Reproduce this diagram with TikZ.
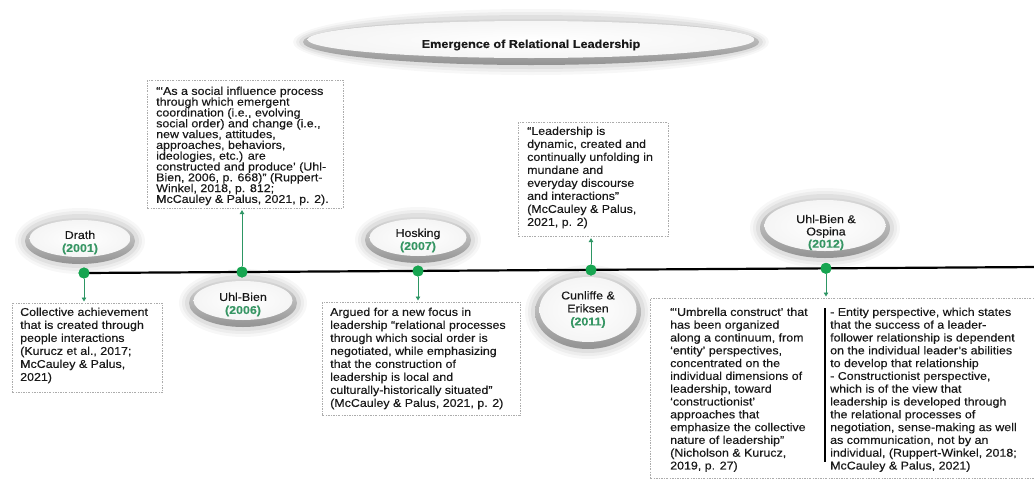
\documentclass[tikz,border=0pt]{standalone}
\usepackage{fontspec}
\setmainfont[FakeStretch=1.1,FakeBold=0.3]{Liberation Sans}
\usetikzlibrary{arrows.meta}
\definecolor{dotgreen}{RGB}{22,165,80}
\definecolor{yeargreen}{RGB}{55,150,100}
\definecolor{arrgreen}{RGB}{45,150,100}
\definecolor{ink}{RGB}{25,25,25}
\newcommand\glassell[4]{%
  \foreach \g/\o in {10/0.03,7/0.04,4/0.05}{%
    \fill[black, opacity=\o] (#1,#2) ellipse [x radius={(#3+\g)*1pt}, y radius={(#4+\g)*1pt}];}%
  \shade[top color=gray!30, bottom color=gray!85] (#1,#2) ellipse [x radius={#3*1pt}, y radius={#4*1pt}];%
  \shade[inner color=white, outer color=gray!8] (#1,{#2-2.5}) ellipse [x radius={(#3-4.5)*1pt}, y radius={(#4-4.5)*1pt}];%
}
\newcommand\yrtxt[1]{\textbf{\color{yeargreen}#1}}
\begin{document}
\begin{tikzpicture}[x=1pt,y=-1pt,
  txt/.style={font=\fontsize{11.3pt}{13pt}\selectfont, text=ink, align=left, inner sep=0pt, anchor=north west},
  boxnode/.style={draw=gray!65, line width=0.6pt, dash pattern=on 2pt off 1.3pt on 0.7pt off 1.3pt, fill=white, anchor=north west, inner sep=0pt},
  dot/.style={circle, fill=dotgreen, minimum size=11pt, inner sep=0pt},
  arr/.style={draw=arrgreen, line width=0.9pt, -{Triangle[width=4.5pt,length=4pt]}, shorten >=1.5pt},
  lbl/.style={font=\fontsize{11.3pt}{13pt}\selectfont, text=ink, align=center, inner sep=0pt}]
\clip (0,0) rectangle (1034,480);
\fill[white] (0,0) rectangle (1034,480);

% title
\glassell{531}{42}{228}{23}
\node[font=\bfseries\fontsize{11.5pt}{13pt}\selectfont, text=ink] (title) at (531,45) {Emergence of Relational Leadership};

% year ellipses
\glassell{80}{241}{55}{23}
\glassell{243}{303}{54}{24}
\glassell{418}{240}{53}{23}
\glassell{588}{312}{53}{37}
\glassell{825}{228}{65}{30}
\node[lbl] (drathlbl) at (80,242.5) {Drath\\\yrtxt{(2001)}};
\node[lbl] (uhllbl) at (243,304.5) {Uhl-Bien\\\yrtxt{(2006)}};
\node[lbl] (hoslbl) at (418,240.5) {Hosking\\\yrtxt{(2007)}};
\node[lbl] (cunlbl) at (588,309.5) {Cunliffe \&\\Eriksen\\\yrtxt{(2011)}};
\node[lbl, font=\fontsize{11.3pt}{12.3pt}\selectfont] (osplbl) at (826,232.5) {Uhl-Bien \&\\Ospina\\\yrtxt{(2012)}};

% timeline
\coordinate (tend) at (1040,267);
\node[dot] (d1) at (84,273) {};
\node[dot] (d2) at (242,272) {};
\node[dot] (d3) at (418,271) {};
\node[dot] (d4) at (591,270) {};
\node[dot] (d5) at (826,268.3) {};
\draw[line width=2.2pt, black] (d1.center) -- (tend);
\node[dot] at (d1) {};
\node[dot] at (d2) {};
\node[dot] at (d3) {};
\node[dot] at (d4) {};
\node[dot] at (d5) {};
\node[dot] (d6) at (tend) {};

% boxes
\node[boxnode, minimum width=150pt, minimum height=89pt] (drathbox) at (12,303) {};
\node[boxnode, minimum width=196pt, minimum height=128pt] (ubox) at (147,80) {};
\node[boxnode, minimum width=198pt, minimum height=113pt] (hbox) at (322,302) {};
\node[boxnode, minimum width=150pt, minimum height=114pt] (cbox) at (518,122) {};
\node[boxnode, minimum width=400pt, minimum height=180pt] (obox) at (650,298) {};

\node[txt] (drathtxt) at (20,307.5) {Collective achievement\\that is created through\\people interactions\\(Kurucz et al., 2017;\\McCauley \& Palus,\\2021)};
\node[txt, font=\fontsize{11.3pt}{10.8pt}\selectfont] (utxt) at (156,86.5) {“‘As a social influence process\\through which emergent\\coordination (i.e., evolving\\social order) and change (i.e.,\\new values, attitudes,\\approaches, behaviors,\\ideologies, etc.) are\\constructed and produce’ (Uhl-\\Bien, 2006, p. 668)” (Ruppert-\\Winkel, 2018, p. 812;\\McCauley \& Palus, 2021, p. 2).};
\node[txt] (htxt) at (330,307.5) {Argued for a new focus in\\leadership “relational processes\\through which social order is\\negotiated, while emphasizing\\that the construction of\\leadership is local and\\culturally-historically situated”\\(McCauley \& Palus, 2021, p. 2)};
\node[txt] (ctxt) at (527,126.5) {“Leadership is\\dynamic, created and\\continually unfolding in\\mundane and\\everyday discourse\\and interactions”\\(McCauley \& Palus,\\2021, p. 2)};
\node[txt, font=\fontsize{11.3pt}{12.8pt}\selectfont] (oltxt) at (670,307.5) {“‘Umbrella construct’ that\\has been organized\\along a continuum, from\\‘entity’ perspectives,\\concentrated on the\\individual dimensions of\\leadership, toward\\‘constructionist’\\approaches that\\emphasize  the collective\\nature of leadership”\\(Nicholson \& Kurucz,\\2019, p. 27)};
\node[txt, font=\fontsize{11.3pt}{12.8pt}\selectfont] (ortxt) at (830,307.5) {- Entity perspective, which states\\that the success of a leader-\\follower relationship is dependent\\on the individual leader’s abilities\\to develop that relationship\\- Constructionist perspective,\\which is of the view that\\leadership is developed through\\the relational processes of\\negotiation, sense-making as well\\as communication,  not by an\\individual, (Ruppert-Winkel, 2018;\\McCauley \& Palus, 2021)};
\coordinate (divtop) at (825,308);
\coordinate (divbot) at (825,462);
\draw[line width=2pt, black] (divtop) -- (divbot);

% arrows
\draw[arr] (d1) -- (d1 |- drathbox.north);
\draw[arr] (d2) -- (d2 |- ubox.south);
\draw[arr] (d3) -- (d3 |- hbox.north);
\draw[arr] (d4) -- (d4 |- cbox.south);
\draw[arr] (d5) -- (d5 |- obox.north);
\end{tikzpicture}
\end{document}
